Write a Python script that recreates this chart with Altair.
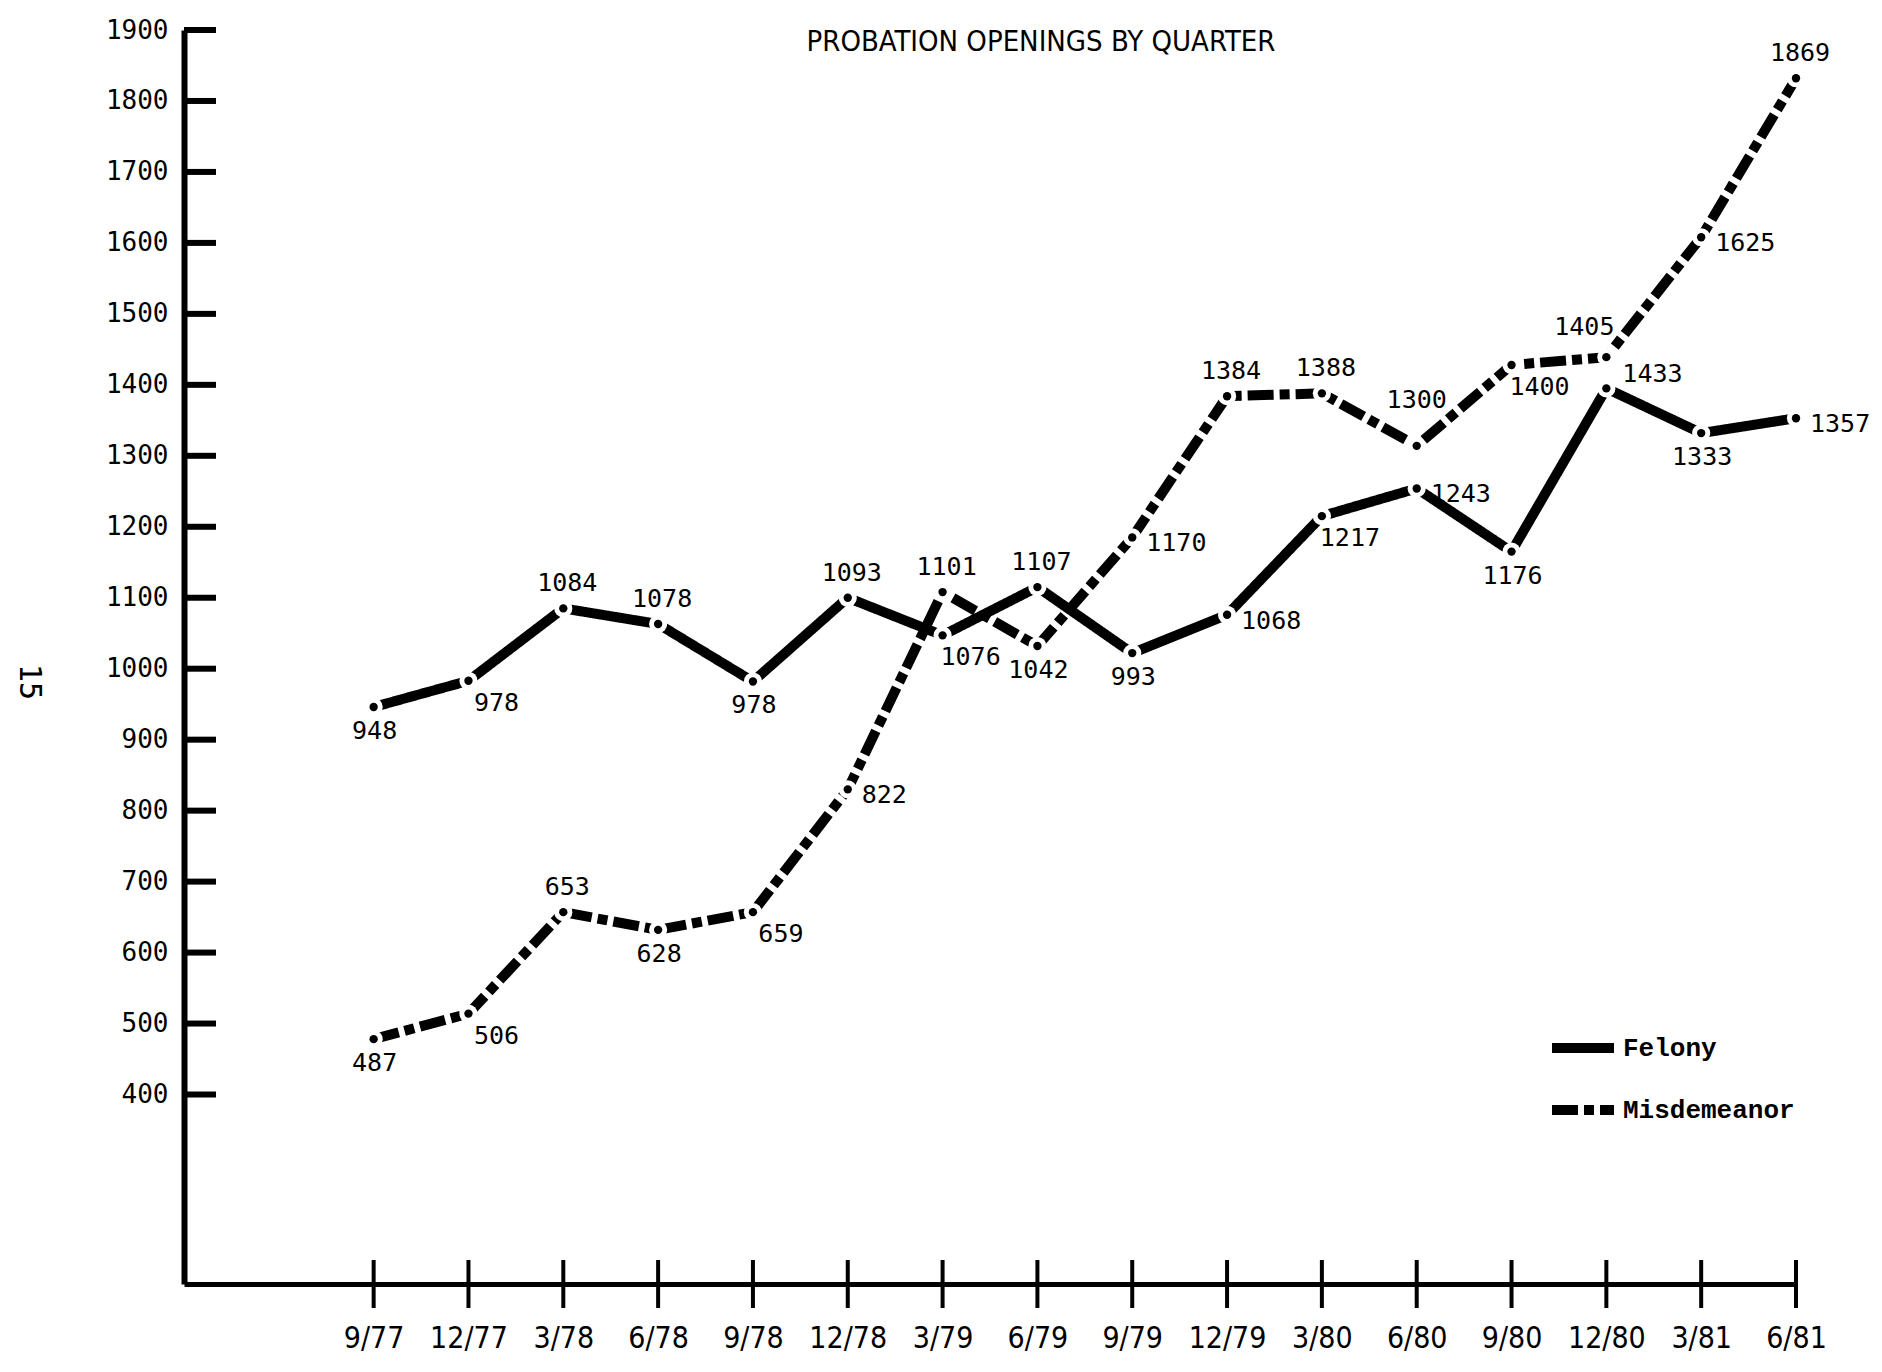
import json
import altair as alt
import pandas as pd

# ---------------- data ----------------
quarters = ["9/77", "12/77", "3/78", "6/78", "9/78", "12/78", "3/79", "6/79",
            "9/79", "12/79", "3/80", "6/80", "9/80", "12/80", "3/81", "6/81"]

# numbers printed next to each point
felony_printed = [948, 978, 1084, 1078, 978, 1093, 1076, 1107,
                  993, 1068, 1217, 1243, 1176, 1433, 1333, 1357]
misd_printed = [487, 506, 653, 628, 659, 822, 1101, 1042,
                1170, 1384, 1388, 1300, 1400, 1405, 1625, 1869]

# heights at which the hand-drawn points actually sit on the value axis
felony_drawn = [946, 983, 1085, 1063, 982, 1100, 1047, 1115,
                1022, 1076, 1215, 1254, 1165, 1395, 1332, 1353]
misd_drawn = [478, 514, 657, 632, 657, 830, 1108, 1032,
              1185, 1384, 1388, 1314, 1428, 1439, 1608, 1832]

# side of the point on which each printed number sits
felony_side = ["S", "SE", "N", "N", "S", "N", "SE", "N",
               "S", "E", "SE", "E", "S", "NE", "S", "E"]
misd_side = ["S", "SE", "N", "S", "SE", "E", "N", "S",
             "E", "N", "N", "NN", "SE", "NW", "E", "N"]

y_ticks = [400, 500, 600, 700, 800, 900, 1000, 1100, 1200,
           1300, 1400, 1500, 1600, 1700, 1800, 1900]
series_names = ["Felony", "Misdemeanor"]
chart_title = ["PROBATION OPENINGS BY QUARTER"]
page_number = ["15"]

# ---------------- table ----------------
rows = []
for name, drawn, printed, side in [
    ("Felony", felony_drawn, felony_printed, felony_side),
    ("Misdemeanor", misd_drawn, misd_printed, misd_side),
]:
    for i, q in enumerate(quarters):
        rows.append(dict(idx=i, quarter=q, series=name, value=drawn[i],
                         label=str(printed[i]), side=side[i]))
df = pd.DataFrame(rows)

# ---------------- styling ----------------
W, H = 1612, 1254
COND = "DejaVu Sans Condensed, Liberation Sans Narrow, DejaVu Sans"
MONO = "DejaVu Sans Mono"
LEG = "Liberation Mono"

x_scale = alt.Scale(domain=[-2, 15], nice=False, zero=False)
y_scale = alt.Scale(domain=[133, 1900], nice=False, zero=False)

x_axis = alt.Axis(
    values=list(range(len(quarters))),
    labelExpr=json.dumps(quarters) + "[datum.value]",
    ticks=False, grid=False, title=None,
    domainColor="black", domainWidth=5,
    labelFont=COND, labelFontSize=30, labelColor="black",
    labelBaseline="middle", labelPadding=54,
    labelFlush=False, labelOverlap=False,
)
y_axis = alt.Axis(
    values=y_ticks, format="d", ticks=False, grid=False, title=None,
    domainColor="black", domainWidth=6,
    labelFont=MONO, labelFontSize=26, labelColor="black",
    labelPadding=16, labelFlush=False, labelOverlap=False,
)


def X(field="idx"):
    return alt.X(f"{field}:Q", scale=x_scale, axis=x_axis, title=None)


def Y(field="value"):
    return alt.Y(f"{field}:Q", scale=y_scale, axis=y_axis, title=None)


base = alt.Chart(df)

lines = base.mark_line(strokeWidth=10, color="black", strokeCap="butt").encode(
    x=X(), y=Y(),
    strokeDash=alt.StrokeDash(
        "series:N",
        scale=alt.Scale(domain=series_names, range=[[1, 0], [26, 6, 10, 6]]),
        legend=alt.Legend(
            title=None, orient="none", legendX=1363, legendY=982,
            symbolType="stroke", symbolSize=3844, symbolStrokeWidth=10,
            symbolStrokeColor="black",
            labelFont=LEG, labelFontSize=26, labelFontWeight="bold",
            labelColor="black", labelOffset=4, rowPadding=6, labelLimit=0,
        ),
    ),
    order="idx:Q",
)

halo = base.mark_circle(color="white", opacity=1, size=330).encode(x=X(), y=Y())
dots = base.mark_circle(color="black", opacity=1, size=70).encode(x=X(), y=Y())

placements = {
    "N": dict(align="center", dx=4, dy=-25),
    "NN": dict(align="center", dx=0, dy=-46),
    "S": dict(align="center", dx=1, dy=24),
    "SE": dict(align="center", dx=28, dy=22),
    "E": dict(align="left", dx=14, dy=6),
    "NE": dict(align="left", dx=16, dy=-14),
    "NW": dict(align="center", dx=-22, dy=-30),
}
label_layers = []
for side, p in placements.items():
    label_layers.append(
        base.transform_filter(alt.datum.side == side)
        .mark_text(font=MONO, fontSize=25, color="black", baseline="middle", **p)
        .encode(x=X(), y=Y(), text="label:N")
    )

ytick_rules = alt.Chart(pd.DataFrame({"value": y_ticks})).mark_rule(
    color="black", strokeWidth=6
).encode(y=Y(), x=alt.value(0), x2=alt.value(32))

xtick_rules = alt.Chart(pd.DataFrame({"idx": list(range(len(quarters)))})).mark_rule(
    color="black", strokeWidth=4
).encode(x=X(), y=alt.value(H - 24), y2=alt.value(H + 24))

title_mark = alt.Chart(pd.DataFrame({"t": chart_title})).mark_text(
    font=COND, fontSize=29, color="black", baseline="middle", align="center"
).encode(text="t:N", x=alt.value(857), y=alt.value(12))

page = alt.Chart(pd.DataFrame({"p": page_number})).mark_text(
    font=MONO, fontSize=30, color="black", angle=90, baseline="middle", align="center"
).encode(text="p:N", x=alt.value(-155), y=alt.value(652))

chart = alt.layer(
    ytick_rules, xtick_rules, lines, halo, dots, *label_layers, title_mark, page
).properties(
    width=W, height=H,
    autosize=alt.AutoSizeParams(type="none"),
    padding={"left": 176, "top": 22, "right": 76, "bottom": 80},
).configure(background="white").configure_view(strokeWidth=0)

chart.save("out.html", embed_options={"renderer": "svg", "actions": False})
